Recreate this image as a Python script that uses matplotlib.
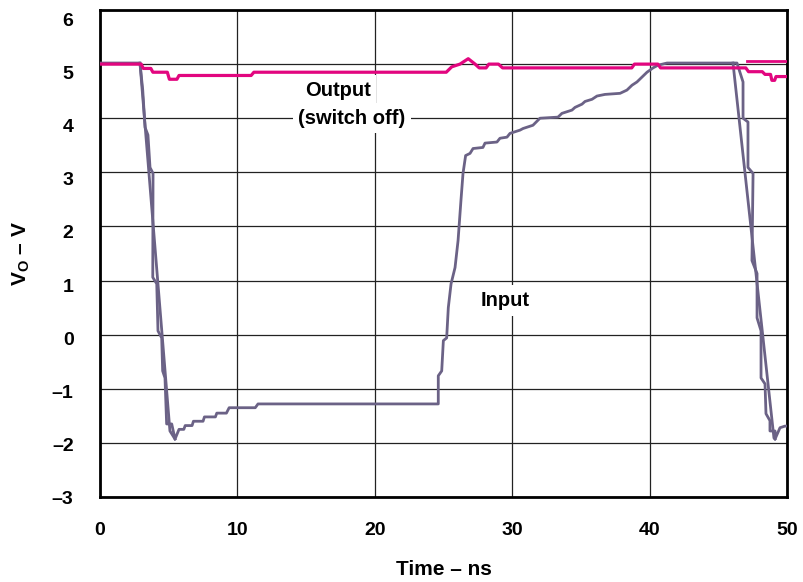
import matplotlib
matplotlib.use('Agg')
import matplotlib.pyplot as plt
import matplotlib.transforms as mtransforms
import numpy as np

# --- data ---
# input, stepped trace (whole sweep)
in_t = [0, 2.91, 3.11, 3.28, 3.49, 3.64, 3.86, 3.84, 4.13, 4.22, 4.49, 4.56, 4.73, 4.85, 5.22, 5.46,
        5.75, 6.1, 6.2, 6.7, 6.8, 7.5, 7.6, 8.4, 8.5, 9.2, 9.4, 11.3, 11.5,
        24.62, 24.62, 24.87, 24.99, 25.23, 25.35, 25.55, 25.84, 26.06, 26.27, 26.42, 26.61,
        26.93, 27.15, 27.87, 28.02, 28.89, 29.11, 29.62, 29.84, 30.57, 30.79, 31.51, 32.02,
        33.33, 33.62, 34.35, 34.57, 35.08, 35.30, 35.81, 36.17, 36.75, 37.85, 38.35, 38.72,
        39.08, 39.81, 40.25, 40.61, 41.27, 46.36,
        46.80, 46.80, 47.16, 47.16, 47.53, 47.45, 47.82, 47.82, 48.11, 48.11, 48.40, 48.47,
        48.76, 48.76, 49.13, 49.13, 49.49, 49.85, 50.0]
in_v = [5.02, 5.02, 4.52, 3.83, 3.69, 3.09, 2.98, 1.06, 0.94, 0.07, -0.06, -0.67, -0.80, -1.65, -1.65, -1.93,
        -1.75, -1.75, -1.68, -1.68, -1.60, -1.60, -1.52, -1.52, -1.45, -1.45, -1.35, -1.35, -1.28,
        -1.28, -0.76, -0.67, -0.11, -0.06, 0.50, 0.94, 1.24, 1.74, 2.48, 2.98, 3.31,
        3.35, 3.44, 3.46, 3.54, 3.56, 3.63, 3.65, 3.72, 3.78, 3.81, 3.87, 4.00,
        4.02, 4.09, 4.15, 4.20, 4.26, 4.31, 4.35, 4.41, 4.44, 4.46, 4.52, 4.61,
        4.67, 4.85, 4.93, 4.98, 5.02, 5.02,
        4.67, 4.00, 3.93, 3.09, 2.98, 1.37, 1.13, 0.31, 0.07, -0.80, -0.91, -1.46,
        -1.59, -1.78, -1.78, -1.93, -1.72, -1.69, -1.69]

# second sweep, only visible on the falling edges
fall1_t = [2.91, 5.09, 5.46]
fall1_v = [5.02, -1.78, -1.93]
fall2_t = [46.07, 49.05, 49.13]
fall2_v = [5.02, -1.91, -1.93]

# output (switch off)
out_t = [0, 3.0, 3.15, 3.7, 3.85, 4.9, 5.05, 5.6, 5.75, 11.0, 11.2, 25.2, 25.6, 26.2, 26.8,
         27.3, 27.6, 28.1, 28.3, 29.0, 29.3, 38.7, 38.9, 40.6, 40.8, 47.0, 47.2, 48.2, 48.4,
         48.8, 48.9, 49.1, 49.2, 50]
out_v = [5.0, 5.0, 4.92, 4.92, 4.85, 4.85, 4.72, 4.72, 4.79, 4.79, 4.85, 4.85, 4.95, 5.0, 5.1,
         5.0, 4.93, 4.93, 5.0, 5.0, 4.93, 4.93, 5.0, 5.0, 4.93, 4.93, 4.86, 4.86, 4.81,
         4.81, 4.7, 4.7, 4.77, 4.77]
out2_t = [47.1, 49.9]
out2_v = [5.05, 5.05]

xticks = [0, 10, 20, 30, 40, 50]
yticks = [-3, -2, -1, 0, 1, 2, 3, 4, 5, 6]
ytick_labels = ['\u20133', '\u20132', '\u20131', '0', '1', '2', '3', '4', '5', '6']

plt.rcParams['font.family'] = ['Liberation Sans', 'DejaVu Sans']
plt.rcParams['font.weight'] = 'bold'
plt.rcParams['mathtext.fontset'] = 'custom'
plt.rcParams['mathtext.rm'] = 'Liberation Sans:bold'
plt.rcParams['mathtext.it'] = 'Liberation Sans:bold'

fig = plt.figure(figsize=(8.04, 5.82), dpi=100)
ax = fig.add_axes([100/804, 1 - 497/582, 687/804, 487/582])

purple = '#6b6286'
magenta = '#e2067f'

ax.plot(in_t, in_v, color=purple, lw=2.0, zorder=3)
ax.plot(fall1_t, fall1_v, color=purple, lw=2.0, zorder=3)
ax.plot(fall2_t, fall2_v, color=purple, lw=2.0, zorder=3)
ax.plot(out_t, out_v, color=magenta, lw=2.3, zorder=4)
ax.plot(out2_t, out2_v, color=magenta, lw=2.0, zorder=4)

ax.set_xlim(0, 50)
ax.set_ylim(-3, 6)
ax.set_xticks(xticks)
ax.set_yticks(yticks)
ax.set_yticklabels(ytick_labels)
ax.tick_params(length=0, labelsize=14)
ax.tick_params(axis='x', pad=18)
ax.tick_params(axis='y', pad=19)
ax.grid(True, color='#222222', lw=0.9)
ax.set_axisbelow(True)
for s in ax.spines.values():
    s.set_linewidth(2.0)

# y labels in the original drift down a little toward the top
for lab, v in zip(ax.get_yticklabels(), yticks):
    dy = (1 + (v + 3) * 8 / 9) / 100
    lab.set_transform(lab.get_transform() + mtransforms.ScaledTranslation(0, -dy, fig.dpi_scale_trans))

ax.set_xlabel('Time \u2013 ns', fontsize=15, fontweight='bold', labelpad=15)
ax.set_ylabel('$\\mathrm{V_O}$ \u2013 V', fontsize=15, fontweight='bold', labelpad=14)

box = dict(facecolor='white', edgecolor='none', pad=4)
ax.text(17.3, 4.52, 'Output', fontsize=14.5, ha='center', va='center', bbox=box, zorder=5)
ax.text(18.34, 4.0, '(switch off)', fontsize=14.5, ha='center', va='center', bbox=box, zorder=5)
ax.text(29.48, 0.63, 'Input', fontsize=14.5, ha='center', va='center', bbox=box, zorder=5)

fig.savefig('out.png', dpi=100)
